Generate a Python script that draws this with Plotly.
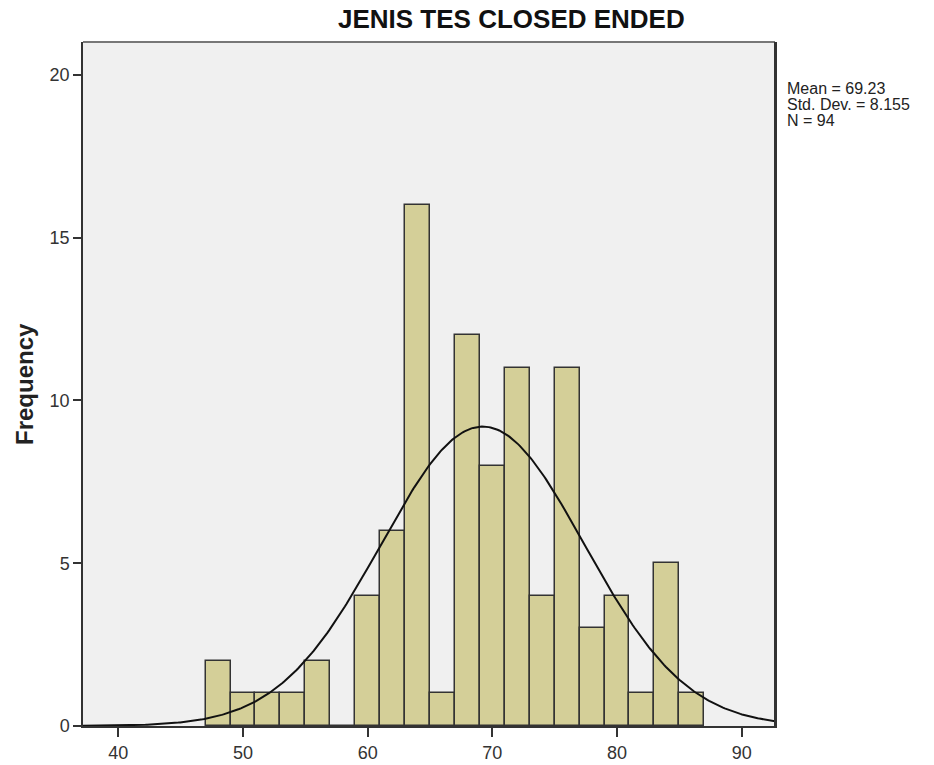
import numpy as np
import plotly.graph_objects as go

# Histogram data (bin left edges, width 2)
bin_starts = [47, 49, 51, 53, 55, 57, 59, 61, 63, 65, 67, 69, 71, 73, 75, 77, 79, 81, 83, 85]
frequencies = [2, 1, 1, 1, 2, 0, 4, 6, 16, 1, 12, 8, 11, 4, 11, 3, 4, 1, 5, 1]
bin_width = 2
mean_val = 69.23
std_val = 8.155
n_val = 94
x_ticks = [40, 50, 60, 70, 80, 90]
y_ticks = [0, 5, 10, 15, 20]
stats_lines = ["Mean = 69.23", "Std. Dev. = 8.155", "N = 94"]

centers = [s + bin_width / 2 for s in bin_starts]

fig = go.Figure()
fig.add_trace(go.Bar(
    x=centers, y=frequencies, width=[bin_width] * len(centers),
    marker=dict(color="#D4CF98", line=dict(color="#333333", width=1.5)),
    hoverinfo="x+y", showlegend=False,
))

xs = np.linspace(37.17, 92.67, 400)
ys = n_val * bin_width * np.exp(-0.5 * ((xs - mean_val) / std_val) ** 2) / (std_val * np.sqrt(2 * np.pi))
fig.add_trace(go.Scatter(x=xs, y=ys, mode="lines", line=dict(color="#111111", width=2),
                         showlegend=False, hoverinfo="skip"))

ann = [
    dict(text="<b>JENIS TES CLOSED ENDED</b>", xref="paper", yref="paper",
         x=(511 - 83) / 692, y=1, yshift=23, showarrow=False,
         font=dict(size=26, color="#111111"), xanchor="center", yanchor="middle"),
    dict(text="<b>Frequency</b>", xref="paper", yref="paper",
         x=0, xshift=-59, y=(726 - 384) / 684, textangle=-90, showarrow=False,
         font=dict(size=24, color="#222222"), xanchor="center", yanchor="middle"),
]
for i, line in enumerate(stats_lines):
    ann.append(dict(text=line, xref="paper", yref="paper",
                    x=1, xshift=10, y=(726 - (89 + 16 * i)) / 684, showarrow=False,
                    xanchor="left", yanchor="middle", font=dict(size=16, color="#222222")))

fig.update_layout(
    width=934, height=765,
    margin=dict(l=83, r=159, t=42, b=39, autoexpand=False),
    paper_bgcolor="white", plot_bgcolor="#F0F0F0",
    bargap=0,
    font=dict(family="Liberation Sans, Arial, sans-serif", color="#222222", size=13),
    xaxis=dict(range=[37.17, 92.67], tickvals=x_ticks, ticks="outside", ticklen=9, tickwidth=2,
               tickcolor="#333333", showgrid=False, zeroline=False, showline=True,
               linecolor="#333333", linewidth=2, mirror=False, automargin=False,
               tickfont=dict(size=18, color="#333333")),
    yaxis=dict(range=[0, 21.01], tickvals=y_ticks, ticks="outside", ticklen=8, tickwidth=1.5,
               tickcolor="#333333", showgrid=False, zeroline=False, showline=True,
               linecolor="#333333", linewidth=1.5, mirror=True, automargin=False,
               tickfont=dict(size=18, color="#333333")),
    shapes=[
        dict(type="line", xref="paper", yref="paper", x0=0, x1=1, y0=1, y1=1,
             line=dict(color="#777777", width=2)),
        dict(type="line", xref="paper", yref="paper", x0=1, x1=1, y0=0, y1=1,
             line=dict(color="#333333", width=2)),
    ],
    annotations=ann,
)

fig.write_html("out.html")
